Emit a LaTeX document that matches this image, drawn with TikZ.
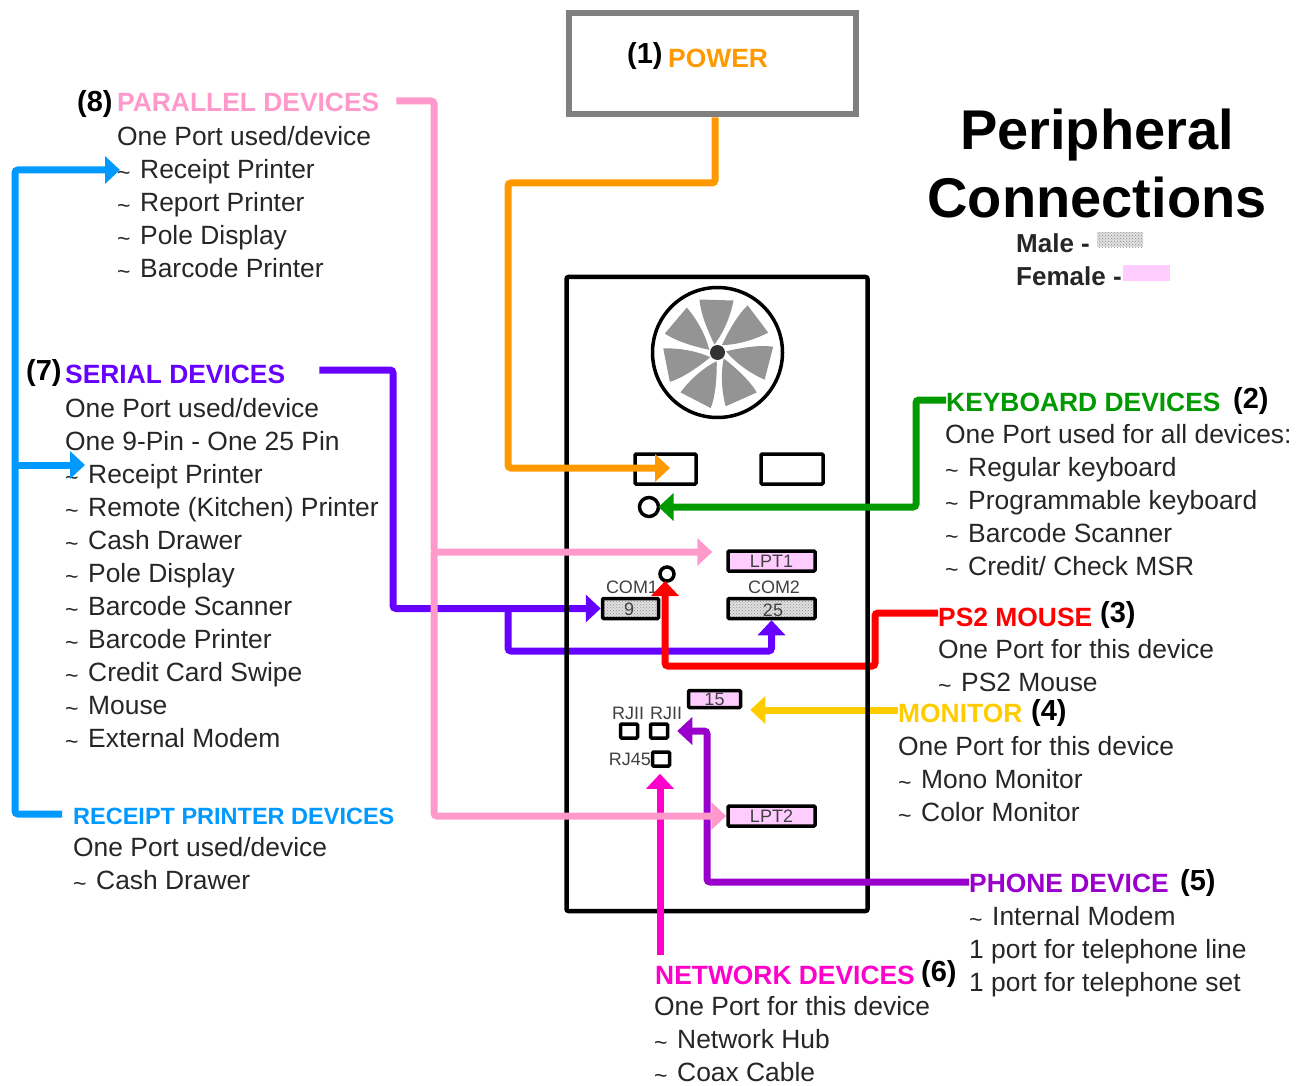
\documentclass[tikz,border=0pt]{standalone}
\usepackage{fontspec}
\setmainfont{Liberation Sans}
\usepackage{xcolor}
\usetikzlibrary{arrows.meta,patterns}
\definecolor{powerC}{HTML}{FF9900}
\definecolor{parallelC}{HTML}{FF99CC}
\definecolor{serialC}{HTML}{6600FF}
\definecolor{keybC}{HTML}{009900}
\definecolor{mouseC}{HTML}{FF0000}
\definecolor{monitorC}{HTML}{FFCC00}
\definecolor{phoneC}{HTML}{9900CC}
\definecolor{netC}{HTML}{FF00CC}
\definecolor{receiptC}{HTML}{0099FF}
\definecolor{femaleC}{HTML}{FFCCFF}
\newcommand{\tld}{\makebox[23pt][l]{\raisebox{-2pt}{\fontsize{23}{23}\selectfont\textasciitilde}}}

\begin{document}
\begin{tikzpicture}[
  x=1pt,y=-1pt,
  every node/.style={align=left,inner sep=0pt},
  head/.style={anchor=base west,font=\fontsize{26.4}{33}\selectfont\bfseries},
  num/.style={anchor=base west,font=\fontsize{29}{33}\selectfont\bfseries},
  body/.style={anchor=north west,text=black!85,font=\fontsize{26.4}{33}\selectfont},
  small/.style={text=black!75,font=\fontsize{18}{20}\selectfont},
  keytxt/.style={anchor=base west,text=black!85,font=\fontsize{26}{33}\selectfont\bfseries},
  port/.style={draw=black,line width=3.5pt,rounded corners=1pt,small,align=center},
  female/.style={port,fill=femaleC},
  male/.style={port,preaction={fill=black!12},pattern=crosshatch dots,pattern color=black!45},
  hole/.style={draw=black,line width=3.5pt,rounded corners=1pt,fill=white},
  jack/.style={circle,draw=black,line width=3.5pt,fill=white,outer sep=0pt},
  wire/.style={-{Triangle[length=15pt,width=27pt]},line width=7pt,rounded corners=3pt}
]
\useasboundingbox (0,0) rectangle (1302,1086);

% title and key
\node[anchor=base,font=\fontsize{56}{68}\selectfont\bfseries,align=center] (title) at (1097,218) {Peripheral\\Connections};
\node[keytxt] (malelbl) at (1016,253) {Male -};
\node[keytxt] (femalelbl) at (1016,286) {Female -};
\node[preaction={fill=black!12},pattern=crosshatch dots,pattern color=black!45,minimum width=46pt,minimum height=15pt] (malekey) at (1120,240) {};
\node[fill=femaleC,minimum width=47pt,minimum height=16pt] (femalekey) at (1146,273) {};

% power box
\node[draw=black!50,line width=6pt,minimum width=287pt,minimum height=101pt] (powerbox) at (712,64) {};

% fan
\node[circle,draw=black,line width=3.5pt,minimum size=130pt] (fan) at (717.5,352.5) {};
\foreach \a in {0,...,6}{
  \fill[black!42,shift={(fan.center)},rotate=\a*360/7]
    (-18,-53) .. controls (-17,-38) and (-8,-18) .. (-3,-8)
    .. controls (6,-20) and (13,-36) .. (16,-52) -- cycle;
}
\node[circle,fill=black!80,minimum size=15pt] (hub) at (fan.center) {};

% ports
\node[hole,minimum width=61pt,minimum height=30pt] (slotA) at (665.5,469) {};
\node[hole,minimum width=62pt,minimum height=30pt] (slotB) at (792,469) {};
\node[jack,minimum size=19pt] (kbjack) at (649,507) {};
\node[jack,minimum size=14pt] (msjack) at (667,574) {};
\node[female,minimum width=87pt,minimum height=20pt] (lptA) at (771.5,561) {LPT1};
\node[male,minimum width=56pt,minimum height=20pt] (comA) at (630.5,608.5) {};
\node[male,minimum width=87pt,minimum height=20pt] (comB) at (771.5,608.5) {};
\node[small] (nine) at (629,609) {9};
\node[small] (twofive) at (773,610) {25};
\node[small,anchor=base] (comAlbl) at (632,593) {COM1};
\node[small,anchor=base] (comBlbl) at (774,593) {COM2};
\node[female,minimum width=52pt,minimum height=17pt] (vga) at (714.5,699) {15};
\node[small,anchor=base] (rjAlbl) at (628,719) {RJII};
\node[small,anchor=base] (rjBlbl) at (666,719) {RJII};
\node[small,anchor=base] (rjClbl) at (630,765) {RJ45};
\node[hole,minimum width=17pt,minimum height=14pt] (rjA) at (629,731) {};
\node[hole,minimum width=17pt,minimum height=14pt] (rjB) at (659,731) {};
\node[hole,minimum width=17pt,minimum height=14pt] (rjC) at (661,759) {};
\node[female,minimum width=87pt,minimum height=20pt] (lptB) at (771.5,816) {LPT2};

% labels
\node[num] (n1) at (627,64) {(1)};
\node[head,text=powerC] (power) at (668,68) {POWER};

\node[num] (n8) at (77,112) {(8)};
\node[head,text=parallelC] (parallel) at (117,112) {PARALLEL DEVICES};
\node[body] (parlist) at (117,126) {One Port used/device\\\tld Receipt Printer\\\tld Report Printer\\\tld Pole Display\\\tld Barcode Printer};

\node[num] (n7) at (26,380) {(7)};
\node[head,text=serialC] (serial) at (65,383) {SERIAL DEVICES};
\node[body] (serlist) at (65,398) {One Port used/device\\One 9-Pin - One 25 Pin\\\tld Receipt Printer\\\tld Remote (Kitchen) Printer\\\tld Cash Drawer\\\tld Pole Display\\\tld Barcode Scanner\\\tld Barcode Printer\\\tld Credit Card Swipe\\\tld Mouse\\\tld External Modem};

\node[head,text=receiptC,font=\fontsize{23.5}{33}\selectfont\bfseries] (receipt) at (73,824) {RECEIPT PRINTER DEVICES};
\node[body] (reclist) at (73,837) {One Port used/device\\\tld Cash Drawer};

\node[head,text=keybC] (keyb) at (946,411) {KEYBOARD DEVICES};
\node[num] (n2) at (1233,408) {(2)};
\node[body] (keylist) at (945,424) {One Port used for all devices:\\\tld Regular keyboard\\\tld Programmable keyboard\\\tld Barcode Scanner\\\tld Credit/ Check MSR};

\node[head,text=mouseC] (mouse) at (938,626) {PS2 MOUSE};
\node[num] (n3) at (1100,622) {(3)};
\node[body] (mouselist) at (938,639) {One Port for this device\\\tld PS2 Mouse};

\node[head,text=monitorC] (monitor) at (898,722) {MONITOR};
\node[num] (n4) at (1031,720) {(4)};
\node[body] (monlist) at (898,736) {One Port for this device\\\tld Mono Monitor\\\tld Color Monitor};

\node[head,text=phoneC] (phone) at (969,892) {PHONE DEVICE};
\node[num] (n5) at (1180,890) {(5)};
\node[body] (phlist) at (969,906) {\tld Internal Modem\\1 port for telephone line\\1 port for telephone set};

\node[head,text=netC] (net) at (655,984) {NETWORK DEVICES};
\node[num] (n6) at (921,981) {(6)};
\node[body] (netlist) at (654,996) {One Port for this device\\\tld Network Hub\\\tld Coax Cable};

% free ends
\coordinate (powerin) at (670,468);
\coordinate (parrec) at (120,170);
\coordinate (serrec) at (85,465);

% connectors under the case
\draw[wire,serialC] ([xshift=34pt,yshift=13pt]serial.base east) -- (393,370) |- (comA.west);
\draw[wire,serialC] (508,608) -- (508,651) -| (comB.south);
\draw[wire,mouseC] ([yshift=13pt]mouse.base west) -- (875,613) -- (875,666) -| ([xshift=-2pt]msjack.south);
\draw[wire,monitorC,shorten >=8pt] ([yshift=12pt]monitor.base west) -- (vga.east |- 0,710);

\node[draw=black,line width=4.5pt,rounded corners=2pt,minimum width=301pt,minimum height=634pt] (case) at (717,594) {};

% connectors over the case
\draw[wire,powerC] ([xshift=3pt]powerbox.south) -- (715,183) -- (508,183) |- (powerin);
\draw[wire,keybC] ([yshift=11pt]keyb.base west) -- (916,400) |- (kbjack.east);
\draw[wire,netC,shorten >=6pt] (660,955) -- (rjC.south -| 660,0);
\draw[wire,phoneC,shorten >=8pt] ([yshift=10pt]phone.base west) -- (707,882) |- (rjB.east);
\draw[wire,receiptC] ([xshift=-11pt,yshift=10pt]receipt.base west) -- (15,814) |- (parrec);
\draw[wire,receiptC] (15,465) -- (serrec);
\draw[wire,parallelC,shorten >=14pt] ([xshift=17pt,yshift=11pt]parallel.base east) -- (434,101) |- (lptA.west |- 0,552);
\draw[wire,parallelC] (434,552) |- (lptB.west);
\end{tikzpicture}
\end{document}
